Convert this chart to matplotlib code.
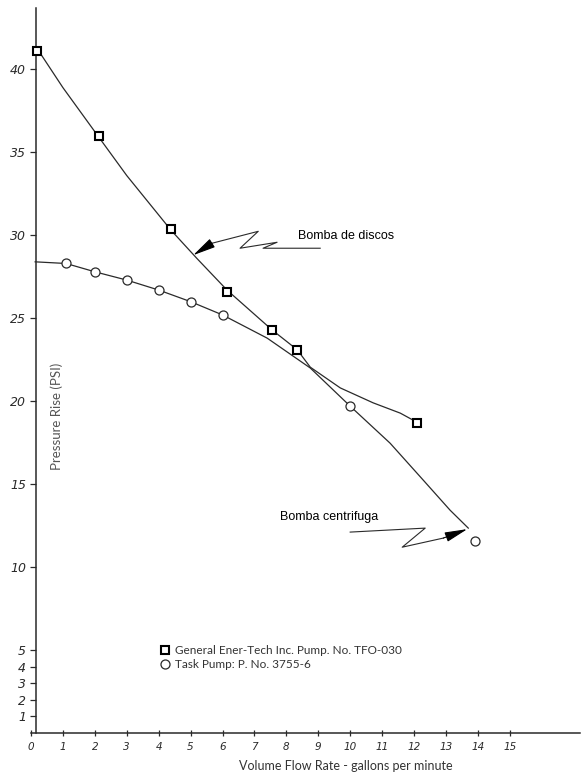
import matplotlib
matplotlib.use("Agg")
import matplotlib.pyplot as plt

# Measured points: disc pump (General Ener-Tech TFO-030)
disc_flow = [0.2, 2.13, 4.39, 6.14, 7.55, 8.34, 12.1]
disc_pressure = [41.1, 36.0, 30.4, 26.6, 24.3, 23.1, 18.7]

# Measured points: centrifugal pump (Task Pump 3755-6)
centrif_flow = [1.1, 2.0, 3.0, 4.0, 5.0, 6.0, 10.0, 13.9]
centrif_pressure = [28.3, 27.8, 27.3, 26.7, 26.0, 25.2, 19.7, 11.6]

# Hand-faired curves through each set of points
disc_curve_flow = [0.28, 1.0, 2.13, 3.0, 4.39, 5.2, 6.14, 7.55,
                   8.34, 8.75, 9.69, 10.72, 11.57, 11.97, 12.1]
disc_curve_pressure = [41.0, 38.9, 35.9, 33.6, 30.3, 28.6, 26.7, 24.3,
                       23.1, 22.05, 20.8, 19.9, 19.28, 18.86, 18.7]

centrif_curve_flow = [0.13, 1.1, 2.0, 3.0, 4.0, 5.0, 6.0, 7.4, 8.75, 10.0,
                      11.25, 12.29, 13.13, 13.7]
centrif_curve_pressure = [28.4, 28.3, 27.8, 27.3, 26.7, 26.0, 25.2, 23.8, 22.0,
                          19.7, 17.47, 15.24, 13.43, 12.35]

x_ticks = list(range(0, 16))
y_ticks = [1, 2, 3, 4, 5, 10, 15, 20, 25, 30, 35, 40]

legend_labels = ["General Ener-Tech Inc. Pump. No. TFO-030",
                 "Task Pump: P. No. 3755-6"]
xlabel = "Volume Flow Rate - gallons per minute"
ylabel = "Pressure Rise (PSI)"

ink = "#2a2a2a"
label_font = ["Lato", "DejaVu Sans"]

fig = plt.figure(figsize=(5.83, 7.76), dpi=100)
ax = fig.add_axes([31 / 583, 43 / 776, 549 / 583, 725 / 776])
ax.set_xlim(0, 17.2)
ax.set_ylim(0, 43.7)

for side in ("top", "right"):
    ax.spines[side].set_visible(False)
ax.spines["left"].set_position(("data", 0.15))
for side in ("left", "bottom"):
    ax.spines[side].set_color(ink)
    ax.spines[side].set_linewidth(1.1)

# curves
ax.plot(disc_curve_flow, disc_curve_pressure, color=ink, lw=0.9, zorder=2)
ax.plot(centrif_curve_flow, centrif_curve_pressure, color=ink, lw=0.9, zorder=2)

# data markers
sq, = ax.plot(disc_flow, disc_pressure, ls="none", marker="s", ms=6,
              mfc="white", mec="black", mew=1.5, zorder=3)
ci, = ax.plot(centrif_flow, centrif_pressure, ls="none", marker="o", ms=6.5,
              mfc="white", mec=ink, mew=0.9, zorder=3)

# ticks
ax.set_xticks(x_ticks)
ax.set_xticklabels([str(v) for v in x_ticks], fontsize=7.5, style="italic",
                   color=ink)
ax.set_yticks(y_ticks)
ax.set_yticklabels([str(v) for v in y_ticks], fontsize=9, style="italic",
                   color=ink)
ax.tick_params(axis="x", direction="inout", length=5, width=0.9, color=ink, pad=4)
ax.tick_params(axis="y", direction="out", length=4, width=0.9, color=ink, pad=3)

# axis titles
ax.set_xlabel(xlabel, fontsize=9, family=label_font, color="#333333")
ax.xaxis.set_label_coords(0.574, -0.037)
ax.text(0.82, 19.1, ylabel, rotation=90, ha="center", va="center",
        fontsize=9.5, family=label_font, color="#555555")

# legend
ax.legend(handles=[sq, ci], labels=legend_labels, loc="center left",
          bbox_to_anchor=(0.224, 0.104), frameon=False,
          handlelength=0.8, handletextpad=0.45, labelspacing=0.2,
          borderpad=0, prop={"family": label_font, "size": 8.5},
          labelcolor="#333333")

# callout: disc pump
ax.plot([9.06, 7.27, 7.71, 6.55, 7.12, 5.67],
        [29.22, 29.22, 29.58, 29.22, 30.24, 29.52], color=ink, lw=0.8)
ax.annotate("", xy=(5.08, 28.8), xytext=(5.67, 29.52),
            arrowprops=dict(arrowstyle="-|>,head_length=1.4,head_width=0.3",
                            color="black", lw=0.8, shrinkA=0, shrinkB=0))
ax.text(8.37, 29.94, "Bomba de discos", fontsize=9, family="Liberation Sans",
        ha="left", va="center", color="black")

# callout: centrifugal pump
ax.plot([10.0, 12.35, 11.63, 12.92], [12.11, 12.35, 11.2, 11.75],
        color=ink, lw=0.8)
ax.annotate("", xy=(13.67, 12.29), xytext=(12.92, 11.75),
            arrowprops=dict(arrowstyle="-|>,head_length=1.4,head_width=0.3",
                            color="black", lw=0.8, shrinkA=0, shrinkB=0))
ax.text(7.8, 13.0, "Bomba centrifuga", fontsize=9, family="Liberation Sans",
        ha="left", va="center", color="black")

fig.savefig("out.png", dpi=100, facecolor="white")
